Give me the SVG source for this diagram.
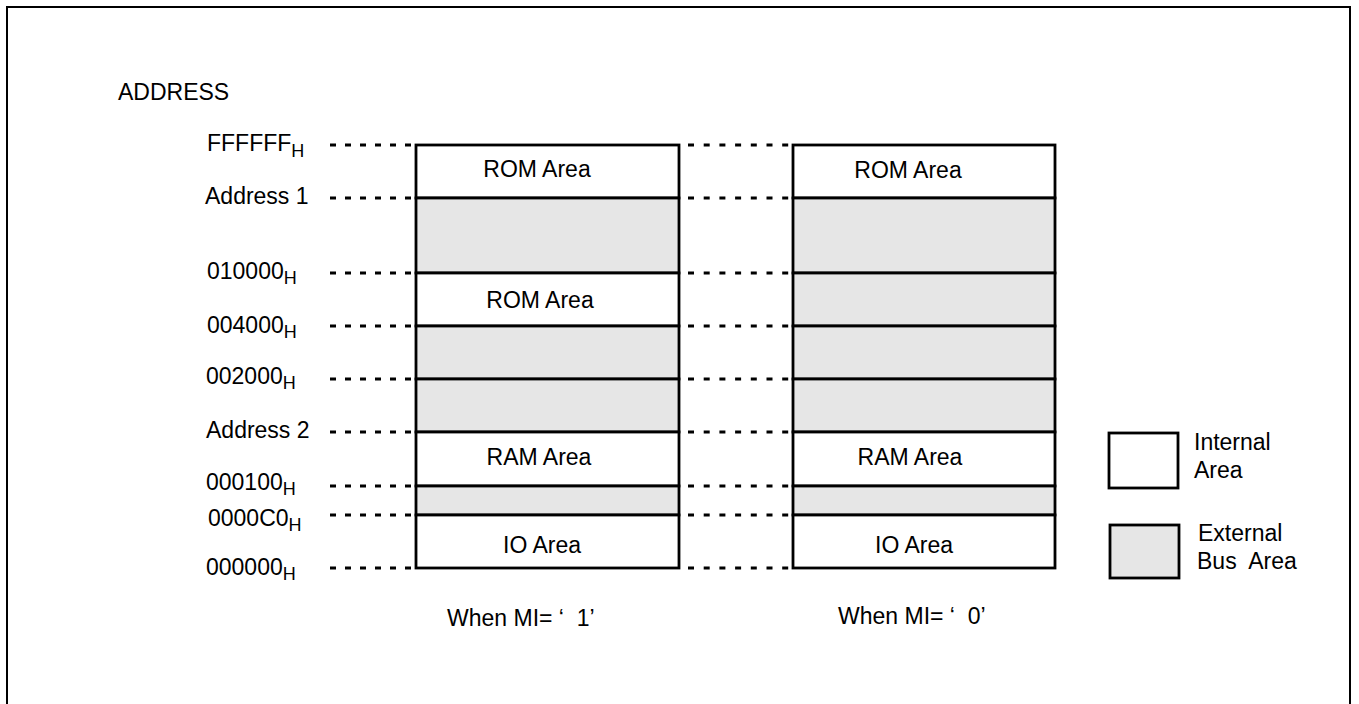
<svg xmlns="http://www.w3.org/2000/svg" width="1359" height="704" viewBox="0 0 1359 704">
<style>
text{font-family:"Liberation Sans",Arial,sans-serif;font-size:23px;fill:#000}
.sub{font-size:18px}
.mid{text-anchor:middle}
.cell{stroke:#000;stroke-width:2.8}
.in{fill:#fff}
.ex{fill:#e6e6e6}
.dash{stroke:#000;stroke-width:3;fill:none}
.dl{stroke-dasharray:6 9}
.dm{stroke-dasharray:6 9.7}
</style>
<rect x="7" y="7" width="1343" height="740" fill="#fff" stroke="#000" stroke-width="2"/>
<text x="118" y="100">ADDRESS</text>
<g id="labels">
<text x="207" y="151">FFFFFF<tspan class="sub" dy="6">H</tspan></text>
<text x="205" y="204">Address 1</text>
<text x="207" y="279">010000<tspan class="sub" dy="5">H</tspan></text>
<text x="207" y="333">004000<tspan class="sub" dy="5">H</tspan></text>
<text x="206" y="384">002000<tspan class="sub" dy="5">H</tspan></text>
<text x="206" y="438">Address 2</text>
<text x="206" y="490">000100<tspan class="sub" dy="5">H</tspan></text>
<text x="208" y="526">0000C0<tspan class="sub" dy="5">H</tspan></text>
<text x="206" y="575">000000<tspan class="sub" dy="5">H</tspan></text>
</g>
<g id="connectors">
<path class="dash dl" d="M330 145H414M330 198H414M330 273H414M330 326H414M330 379H414M330 432H414M330 486H414M330 515H414M330 568H414"/>
<path class="dash dm" d="M688 145H792M688 198H792M688 273H792M688 326H792M688 379H792M688 432H792M688 486H792M688 515H792M688 568H792"/>
</g>
<g id="mi1">
<g id="mi1-rom-high"><rect class="cell in" x="416" y="145" width="263" height="53"/><text x="537" y="177" class="mid">ROM Area</text></g>
<g id="mi1-ext-1"><rect class="cell ex" x="416" y="198" width="263" height="75"/></g>
<g id="mi1-rom-low"><rect class="cell in" x="416" y="273" width="263" height="53"/><text x="540" y="308" class="mid">ROM Area</text></g>
<g id="mi1-ext-2"><rect class="cell ex" x="416" y="326" width="263" height="53"/></g>
<g id="mi1-ext-3"><rect class="cell ex" x="416" y="379" width="263" height="53"/></g>
<g id="mi1-ram"><rect class="cell in" x="416" y="432" width="263" height="54"/><text x="539" y="465" class="mid">RAM Area</text></g>
<g id="mi1-ext-4"><rect class="cell ex" x="416" y="486" width="263" height="29"/></g>
<g id="mi1-io"><rect class="cell in" x="416" y="515" width="263" height="53"/><text x="542" y="553" class="mid">IO Area</text></g>
<text x="447" y="626" xml:space="preserve">When MI= ‘  1’</text>
</g>
<g id="mi0">
<g id="mi0-rom"><rect class="cell in" x="793" y="145" width="262" height="53"/><text x="908" y="178" class="mid">ROM Area</text></g>
<g id="mi0-ext-1"><rect class="cell ex" x="793" y="198" width="262" height="75"/></g>
<g id="mi0-ext-2"><rect class="cell ex" x="793" y="273" width="262" height="53"/></g>
<g id="mi0-ext-3"><rect class="cell ex" x="793" y="326" width="262" height="53"/></g>
<g id="mi0-ext-4"><rect class="cell ex" x="793" y="379" width="262" height="53"/></g>
<g id="mi0-ram"><rect class="cell in" x="793" y="432" width="262" height="54"/><text x="910" y="465" class="mid">RAM Area</text></g>
<g id="mi0-ext-5"><rect class="cell ex" x="793" y="486" width="262" height="29"/></g>
<g id="mi0-io"><rect class="cell in" x="793" y="515" width="262" height="53"/><text x="914" y="553" class="mid">IO Area</text></g>
<text x="838" y="624" xml:space="preserve">When MI= ‘  0’</text>
</g>
<g id="legend-internal"><rect class="cell in" x="1109" y="433" width="69" height="55"/><text x="1194" y="450">Internal</text><text x="1194" y="478">Area</text></g>
<g id="legend-external"><rect class="cell ex" x="1110" y="525" width="69" height="53"/><text x="1198" y="541">External</text><text x="1197" y="569" xml:space="preserve">Bus  Area</text></g>
</svg>
